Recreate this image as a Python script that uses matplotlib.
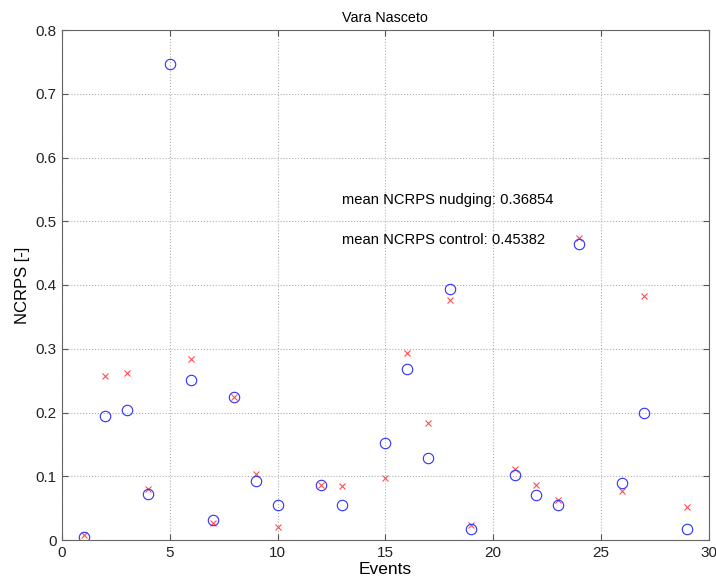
import numpy as np
import matplotlib
matplotlib.use("Agg")
import matplotlib.pyplot as plt

plt.rcParams['font.family'] = ['Liberation Sans', 'DejaVu Sans']

events_nudging = [1, 2, 3, 4, 5, 6, 7, 8, 9, 10, 12, 13, 15, 16, 17, 18, 19, 21, 22, 23, 24, 26, 27, 29]
ncrps_nudging = [0.004, 0.195, 0.204, 0.072, 0.747, 0.251, 0.032, 0.225, 0.092, 0.055, 0.087, 0.055,
                 0.152, 0.269, 0.129, 0.394, 0.017, 0.102, 0.071, 0.055, 0.465, 0.090, 0.200, 0.017]
events_control = [1, 2, 3, 4, 6, 7, 8, 9, 10, 12, 13, 15, 16, 17, 18, 19, 21, 22, 23, 24, 26, 27, 29]
ncrps_control = [0.008, 0.258, 0.262, 0.080, 0.284, 0.027, 0.225, 0.103, 0.020, 0.086, 0.084,
                 0.097, 0.294, 0.183, 0.376, 0.024, 0.112, 0.086, 0.063, 0.474, 0.077, 0.382, 0.051]

fig = plt.figure(figsize=(7.16, 5.82), dpi=100)
ax = fig.add_axes([62/716, 1 - 540/582, (708.5 - 62)/716, (540 - 30)/582])

ax.plot(events_control, ncrps_control, linestyle='none', marker='x', color='#ff5050',
        markersize=5, markeredgewidth=0.8)
ax.plot(events_nudging, ncrps_nudging, linestyle='none', marker='o', markerfacecolor='none',
        markeredgecolor='#3030ff', markersize=7.5, markeredgewidth=0.8)

ax.set_xlim(0, 30)
ax.set_ylim(0, 0.8)
ax.set_xticks([0, 5, 10, 15, 20, 25, 30])
ax.set_yticks([0, 0.1, 0.2, 0.3, 0.4, 0.5, 0.6, 0.7, 0.8])
ax.set_yticklabels(['0', '0.1', '0.2', '0.3', '0.4', '0.5', '0.6', '0.7', '0.8'])
ax.grid(True, linestyle=':', color='#b0b0b0', linewidth=0.8)
ax.tick_params(direction='in', top=True, right=True, length=4, width=0.8, color='#555555',
               labelsize=11, labelcolor='#222222', pad=4)
for s in ax.spines.values():
    s.set_color('#666666')
    s.set_linewidth(0.8)

ax.set_title('Vara Nasceto', fontsize=10.3, pad=6)
ax.set_xlabel('Events', fontsize=12.5, labelpad=2)
ax.set_ylabel('NCRPS [-]', fontsize=12, labelpad=4)

ax.text(13, 0.533, 'mean NCRPS nudging: 0.36854', fontsize=10.6, va='center', ha='left')
ax.text(13, 0.470, 'mean NCRPS control: 0.45382', fontsize=10.6, va='center', ha='left')

fig.savefig('out.png', dpi=100)
